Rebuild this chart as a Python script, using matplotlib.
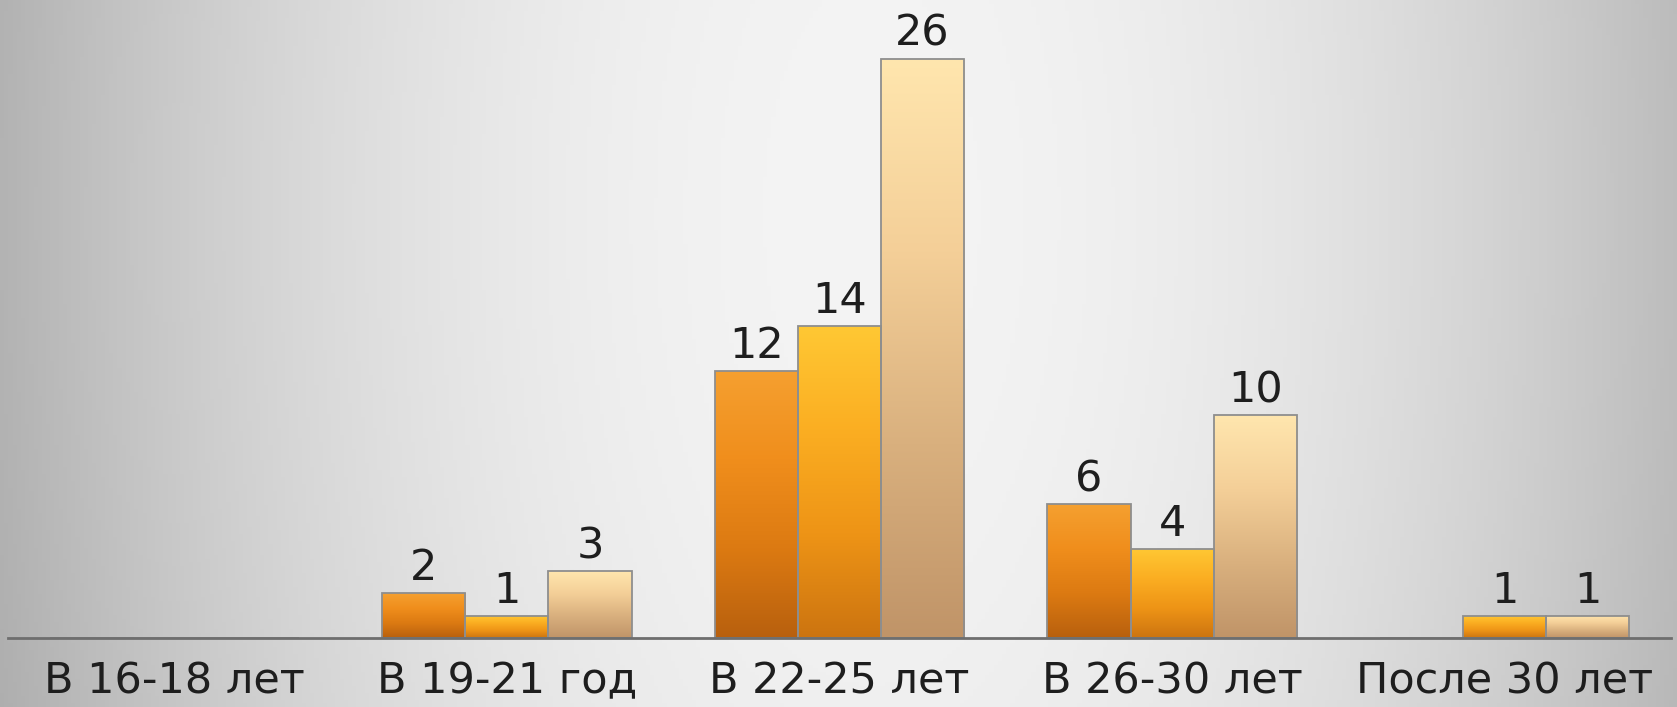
import numpy as np
import matplotlib
matplotlib.use("Agg")
import matplotlib.pyplot as plt
from matplotlib.colors import LinearSegmentedColormap

categories = ["В 16-18 лет", "В 19-21 год", "В 22-25 лет", "В 26-30 лет", "После 30 лет"]
series_a = [0, 2, 12, 6, 0]
series_b = [0, 1, 14, 4, 1]
series_c = [0, 3, 26, 10, 1]

series = [series_a, series_b, series_c]
grad_colors = [
    ["#B8600E", "#DC7A12", "#F08E1C", "#F5A030"],
    ["#CC7410", "#EE9416", "#FBAE22", "#FFC834"],
    ["#C09468", "#D9B07E", "#F4CF98", "#FFE6AE"],
]

W, H = 1677, 707
fig = plt.figure(figsize=(W / 100, H / 100), dpi=100)

# background radial gradient
bg = fig.add_axes([0, 0, 1, 1], zorder=0)
bg.set_axis_off()
xx, yy = np.meshgrid(np.linspace(0, 1, 400), np.linspace(0, 1, 200))
r2 = ((xx - 0.52) / 0.5) ** 2 + ((yy - 0.3) / 2.6) ** 2
v = np.clip(244 - 60 * r2, 170, 250) / 255.0
bg.imshow(np.dstack([v, v, v]), extent=[0, 1, 0, 1], aspect="auto", origin="upper")
bg.set_xlim(0, 1)
bg.set_ylim(0, 1)

ax = fig.add_axes([8 / W, (H - 638) / H, 1663 / W, 624 / H], zorder=1)
ax.patch.set_alpha(0)
ax.set_xlim(-0.5, len(categories) - 0.5)
ax.set_ylim(0, 28)

x = np.arange(len(categories))
bw = 0.25
offsets = [-bw, 0, bw]
for s, vals in enumerate(series):
    cmap = LinearSegmentedColormap.from_list(f"g{s}", grad_colors[s])
    grad = np.linspace(1, 0, 256).reshape(-1, 1)
    bars = ax.bar(x + offsets[s], vals, width=bw, facecolor="none",
                  edgecolor="#8E8E8E", linewidth=1.3, zorder=3)
    for rect, val in zip(bars, vals):
        if val <= 0:
            continue
        x0 = rect.get_x()
        im = ax.imshow(grad, cmap=cmap, vmin=0, vmax=1, aspect="auto",
                       extent=[x0, x0 + rect.get_width(), 0, val], zorder=2,
                       interpolation="bicubic")
        im.set_clip_path(rect)
        ax.text(x0 + rect.get_width() / 2, val + 0.18, str(val), ha="center",
                va="bottom", fontsize=31, color="#1E1E1E", zorder=4)

ax.set_xlim(-0.5, len(categories) - 0.5)
ax.set_ylim(0, 28)
ax.set_xticks(x)
ax.set_xticklabels(categories, fontsize=31, color="#1E1E1E")
ax.tick_params(axis="x", length=0, pad=16)
ax.set_yticks([])
for sp in ["top", "right", "left"]:
    ax.spines[sp].set_visible(False)
ax.spines["bottom"].set_color("#6E6E6E")
ax.spines["bottom"].set_linewidth(2)
ax.spines["bottom"].set_zorder(5)

fig.savefig("out.png", dpi=100)
